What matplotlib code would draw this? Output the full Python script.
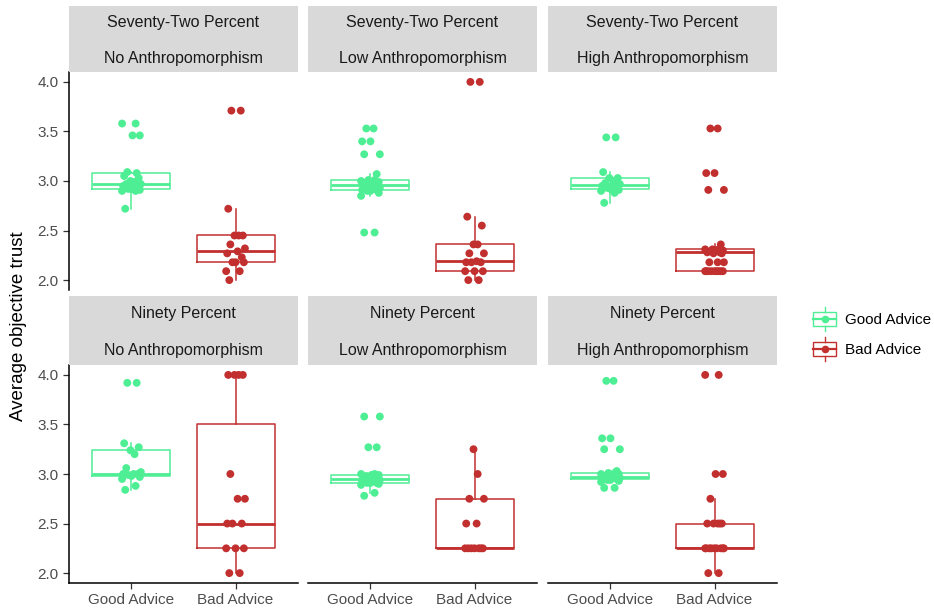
import matplotlib
matplotlib.use("Agg")
import matplotlib.pyplot as plt
from matplotlib.legend_handler import HandlerBase
from matplotlib.patches import Rectangle
from matplotlib.lines import Line2D

plt.rcParams["font.family"] = ["Liberation Sans", "DejaVu Sans"]

levels = ["Seventy-Two Percent", "Ninety Percent"]
conditions = ["No Anthropomorphism", "Low Anthropomorphism", "High Anthropomorphism"]
advice = ["Good Advice", "Bad Advice"]

# average objective trust per participant, one list per cell
good_72_no = [2.72, 2.90, 2.90, 2.91, 2.92, 2.92, 2.93, 2.95, 2.96, 2.97, 2.97,
              2.99, 3.00, 3.03, 3.05, 3.08, 3.09, 3.46, 3.46, 3.58, 3.58]
bad_72_no = [2.00, 2.09, 2.09, 2.18, 2.18, 2.18, 2.23, 2.27, 2.29, 2.32, 2.36,
             2.45, 2.45, 2.45, 2.72, 3.71, 3.71]
good_72_low = [2.48, 2.48, 2.85, 2.88, 2.90, 2.90, 2.91, 2.91, 2.92, 2.93, 2.93,
               2.94, 2.95, 2.95, 2.96, 2.97, 2.97, 2.98, 2.99, 3.00, 3.01, 3.01,
               3.07, 3.27, 3.27, 3.40, 3.40, 3.53, 3.53]
bad_72_low = [2.00, 2.00, 2.09, 2.09, 2.09, 2.18, 2.18, 2.18, 2.19, 2.27, 2.27,
              2.36, 2.36, 2.55, 2.64, 4.00, 4.00]
good_72_high = [2.78, 2.88, 2.90, 2.91, 2.92, 2.93, 2.94, 2.95, 2.96, 2.97, 2.98,
                3.00, 3.03, 3.03, 3.09, 3.44, 3.44]
bad_72_high = [2.09, 2.09, 2.09, 2.09, 2.09, 2.09, 2.09, 2.09, 2.09, 2.18, 2.18,
               2.18, 2.27, 2.27, 2.28, 2.28, 2.29, 2.30, 2.30, 2.31, 2.31, 2.31,
               2.36, 2.91, 2.91, 3.08, 3.08, 3.53, 3.53]
good_90_no = [2.84, 2.88, 2.95, 2.97, 2.98, 2.99, 3.00, 3.00, 3.00, 3.02, 3.06,
              3.20, 3.24, 3.27, 3.31, 3.92, 3.92]
bad_90_no = [2.00, 2.00, 2.25, 2.25, 2.25, 2.50, 2.50, 2.50, 2.75, 2.75, 3.00,
             4.00, 4.00, 4.00, 4.00]
good_90_low = [2.78, 2.81, 2.89, 2.90, 2.91, 2.91, 2.91, 2.92, 2.93, 2.94, 2.95,
               2.95, 2.95, 2.96, 2.97, 2.98, 2.98, 2.99, 2.99, 3.00, 3.00, 3.27,
               3.27, 3.58, 3.58]
bad_90_low = [2.25, 2.25, 2.25, 2.25, 2.25, 2.25, 2.25, 2.50, 2.50, 2.75, 2.75,
              3.00, 3.25]
good_90_high = [2.86, 2.86, 2.92, 2.93, 2.94, 2.94, 2.95, 2.95, 2.96, 2.96, 2.96,
                2.97, 2.97, 2.97, 2.97, 2.98, 2.98, 2.99, 3.00, 3.00, 3.01, 3.01,
                3.03, 3.25, 3.25, 3.36, 3.36, 3.94, 3.94]
bad_90_high = [2.00, 2.00, 2.25, 2.25, 2.25, 2.25, 2.25, 2.25, 2.25, 2.25, 2.25,
               2.50, 2.50, 2.50, 2.50, 2.50, 2.75, 3.00, 3.00, 4.00, 4.00]

y_ticks = [2.0, 2.5, 3.0, 3.5, 4.0]

cells = {
    (0, 0): (good_72_no, bad_72_no),
    (0, 1): (good_72_low, bad_72_low),
    (0, 2): (good_72_high, bad_72_high),
    (1, 0): (good_90_no, bad_90_no),
    (1, 1): (good_90_low, bad_90_low),
    (1, 2): (good_90_high, bad_90_high),
}

GREEN = "#4eee94"
RED = "#c22f2f"
STRIP = "#d9d9d9"
TEXT_GREY = "#4d4d4d"

# horizontal spread for the points, cycled over each group
JITTER = [-0.06, 0.04, -0.09, 0.08, 0.00, -0.03, 0.06, -0.08, 0.02, 0.09,
          -0.05, 0.03, -0.01, 0.07, -0.07, 0.05, -0.04, 0.01, 0.08, -0.09,
          0.04, -0.02, 0.06, -0.06, 0.09, 0.00, -0.08, 0.03, -0.04]

W, H = 934, 611
col_x = [(69, 298), (308, 537), (548, 777)]
row_y = [(6, 72, 290), (296, 365, 583)]  # strip top, panel top, panel bottom


def rect(x0, x1, y0, y1):
    return [x0 / W, 1 - y1 / H, (x1 - x0) / W, (y1 - y0) / H]


class BoxKey(HandlerBase):
    """Legend key drawn as a tiny boxplot with a point on it."""

    def create_artists(self, legend, orig_handle, xdescent, ydescent,
                       width, height, fontsize, trans):
        c = orig_handle.get_color()
        cx = width / 2 - xdescent
        cy = height / 2 - ydescent
        bw, bh = width * 0.95, height * 0.6
        box = Rectangle((cx - bw / 2, cy - bh / 2), bw, bh, fill=False,
                        edgecolor=c, lw=1.0, transform=trans)
        med = Line2D([cx - bw / 2, cx + bw / 2], [cy, cy], color=c, lw=1.6,
                     transform=trans)
        up = Line2D([cx, cx], [cy + bh / 2, cy + height / 2], color=c, lw=1.0,
                    transform=trans)
        lo = Line2D([cx, cx], [cy - height / 2, cy - bh / 2], color=c, lw=1.0,
                    transform=trans)
        dot = Line2D([cx], [cy], marker="o", ms=5.5, color=c, mec="none",
                     transform=trans)
        return [box, med, up, lo, dot]


fig = plt.figure(figsize=(W / 100, H / 100), dpi=100)

for (r, c), (good, bad) in cells.items():
    x0, x1 = col_x[c]
    s0, p0, p1 = row_y[r]
    ax = fig.add_axes(rect(x0, x1, p0, p1))
    sx = fig.add_axes(rect(x0, x1, s0, p0))

    # facet strip
    sx.set_facecolor(STRIP)
    sx.set_xticks([])
    sx.set_yticks([])
    for sp in sx.spines.values():
        sp.set_visible(False)
    sx.text(0.5, 1 - 17 / 66, levels[r], ha="center", va="center",
            fontsize=11.5, color="#1a1a1a")
    sx.text(0.5, 14 / 66, conditions[c], ha="center", va="center",
            fontsize=11.5, color="#1a1a1a")

    bp = ax.boxplot([good, bad], positions=[1, 2], widths=0.75,
                    showfliers=False, showcaps=False, whis=1.5)
    for i, col in enumerate([GREEN, RED]):
        bp["boxes"][i].set(color=col, lw=1.1)
        bp["medians"][i].set(color=col, lw=2.0)
        for wk in bp["whiskers"][2 * i:2 * i + 2]:
            wk.set(color=col, lw=1.1)

    for pos, vals, col in [(1, good, GREEN), (2, bad, RED)]:
        xs = [pos + JITTER[k % len(JITTER)] for k in range(len(vals))]
        ax.scatter(xs, vals, s=32, color=col, edgecolors="none", zorder=3)

    ax.set_xlim(0.4, 2.6)
    ax.set_ylim(1.9, 4.1)
    ax.set_xticks([1, 2])
    ax.set_yticks(y_ticks)
    ax.set_yticklabels([f"{t:.1f}" for t in y_ticks])
    ax.set_xticklabels(advice)
    for side in ["top", "right"]:
        ax.spines[side].set_visible(False)
    ax.tick_params(colors="#333333", labelcolor=TEXT_GREY, labelsize=11,
                   length=4, width=0.9)
    ax.spines["left"].set_linewidth(1.1)
    ax.spines["bottom"].set_linewidth(1.1)
    if c > 0:
        ax.spines["left"].set_visible(False)
        ax.tick_params(axis="y", left=False, labelleft=False)
    if r == 0:
        ax.spines["bottom"].set_visible(False)
        ax.tick_params(axis="x", bottom=False, labelbottom=False)

fig.text(19 / W, 1 - 326 / H, "Average objective trust", rotation=90,
         ha="center", va="center", fontsize=13.5)

handles = [Line2D([], [], color=GREEN), Line2D([], [], color=RED)]
fig.legend(handles, advice, handler_map={Line2D: BoxKey()},
           loc="center left", bbox_to_anchor=(805 / W, 1 - 334 / H),
           frameon=False, fontsize=11, borderpad=0, handlelength=1.6,
           handleheight=2.0, labelspacing=0.45, handletextpad=0.5)

fig.savefig("out.png", dpi=100)
